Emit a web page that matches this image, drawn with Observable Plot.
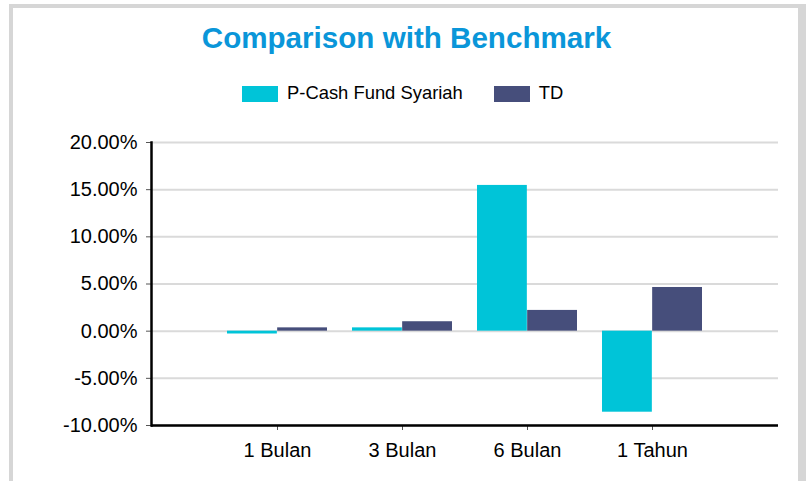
<!DOCTYPE html>
<html>
<head>
<meta charset="utf-8">
<script src="https://cdn.jsdelivr.net/npm/d3@7"></script>
<script src="https://cdn.jsdelivr.net/npm/@observablehq/plot@0.6"></script>
<style>
  html, body { margin: 0; padding: 0; background: #fff; }
  body { width: 811px; height: 481px; position: relative; overflow: hidden; font-family: "Liberation Sans", Arial, sans-serif; }
  #border { position: absolute; left: 9px; top: 4px; width: 785px; height: 500px; border-left: 4px solid #d6d6d6; border-top: 4px solid #d6d6d6; border-right: 8px solid #d6d6d6; }
  #title { position: absolute; left: 0; top: 23px; width: 813px; text-align: center; font-size: 29.6px; line-height: 29px; font-weight: bold; color: #0a96d9; }
  #legend { position: absolute; left: 242px; top: 84px; display: flex; align-items: flex-start; font-size: 18.4px; line-height: 18px; color: #000; }
  .sw { width: 36px; height: 16px; margin-top: 2px; margin-right: 9px; }
  .item { display: flex; align-items: flex-start; margin-right: 31px; }
  #chart { position: absolute; left: 0; top: 120px; }
</style>
</head>
<body>
<div id="border"></div>
<div id="title">Comparison with Benchmark</div>
<div id="legend"></div>
<div id="chart"></div>
<script>
const categories = ["1 Bulan", "3 Bulan", "6 Bulan", "1 Tahun"];
const seriesNames = ["P-Cash Fund Syariah", "TD"];
const fundValues = [-0.003, 0.0035, 0.1545, -0.0859];
const tdValues = [0.0035, 0.0100, 0.0220, 0.0463];
const yTicks = [-0.10, -0.05, 0, 0.05, 0.10, 0.15, 0.20];
const colors = ["#00c4d8", "#464e7b"];

const fundData = categories.map((c, i) => ({category: c, value: fundValues[i]}));
const tdData = categories.map((c, i) => ({category: c, value: tdValues[i]}));

// legend
const legend = document.getElementById("legend");
seriesNames.forEach((name, i) => {
  const item = document.createElement("div");
  item.className = "item";
  const sw = document.createElement("div");
  sw.className = "sw";
  sw.style.background = colors[i];
  const t = document.createElement("span");
  t.textContent = name;
  item.appendChild(sw); item.appendChild(t);
  legend.appendChild(item);
});

const W = 811, H = 361, mL = 151, mR = 33, mT = 22, mB = 56;
const paddingInner = 0.2, paddingOuter = 0.6;
const step = (W - mL - mR) / (categories.length - paddingInner + 2 * paddingOuter);
const half = step * (1 - paddingInner) / 2;
const fmt = d => (d * 100).toFixed(2) + "%";

const chart = Plot.plot({
  width: W, height: H,
  marginLeft: mL, marginRight: mR, marginTop: mT, marginBottom: mB,
  style: {fontFamily: "'Liberation Sans', Arial, sans-serif", fontSize: "20px", color: "#000", background: "transparent"},
  x: {domain: categories, paddingInner, paddingOuter, label: null},
  y: {domain: [-0.10, 0.20], label: null},
  marks: [
    Plot.gridY(yTicks, {stroke: "#dadada", strokeWidth: 2, strokeOpacity: 1}),
    Plot.barY(fundData, {x: "category", y: "value", fill: colors[0], insetRight: half}),
    Plot.barY(tdData, {x: "category", y: "value", fill: colors[1], insetLeft: half}),
    Plot.axisY(yTicks, {tickFormat: fmt, tickSize: 5, tickPadding: 9, stroke: "#555", fontSize: 20, fill: "#000"}),
    Plot.axisX({tickSize: 5, tickPadding: 12, stroke: "#555", fontSize: 20, fill: "#000"}),
    Plot.ruleY([-0.10], {stroke: "#000", strokeWidth: 2.5}),
    Plot.frame({anchor: "left", stroke: "#000", strokeWidth: 2.5})
  ]
});
document.getElementById("chart").appendChild(chart);
</script>
</body>
</html>
